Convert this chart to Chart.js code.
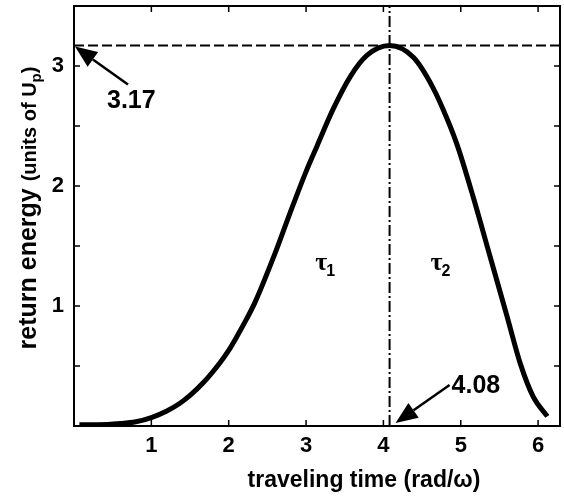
<!DOCTYPE html>
<html>
<head>
<meta charset="utf-8">
<script src="https://cdn.jsdelivr.net/npm/chart.js@4.4.0/dist/chart.umd.min.js"></script>
<style>
  html, body { margin: 0; padding: 0; background: #fff; }
  #plot { display: block; }
</style>
</head>
<body>
<canvas id="plot" width="564" height="497"></canvas>
<script>
// traveling time (rad/omega) and return energy (units of Up)
const travelTime   = [0.07, 0.3, 0.6, 0.8, 1.0, 1.2, 1.37, 1.5, 1.67, 1.89, 2.0, 2.11, 2.23, 2.34, 2.6, 2.79, 3.0, 3.14, 3.35, 3.57, 3.79, 4.08, 4.39, 4.64, 4.83, 4.96, 5.16, 5.38, 5.6, 5.77, 5.94, 6.12];
const returnEnergy = [0.01, 0.01, 0.02, 0.035, 0.07, 0.125, 0.19, 0.255, 0.36, 0.53, 0.63, 0.75, 0.89, 1.03, 1.44, 1.77, 2.12, 2.33, 2.64, 2.91, 3.09, 3.17, 3.07, 2.82, 2.55, 2.33, 1.91, 1.41, 0.91, 0.52, 0.24, 0.08];

const peakTime = 4.08;
const peakEnergy = 3.17;

const xMin = 0, xMax = 6.2832;
const yMin = 0, yMax = 3.5;
const xTicks = [1, 2, 3, 4, 5, 6];
const yTicks = [1, 2, 3];
const yMinorTicks = [0.5, 1.5, 2.5, 3.5];

const tauLabels = [
  { sub: '1', x: 3.26, y: 1.3 },
  { sub: '2', x: 4.75, y: 1.3 }
];

const SANS = '"Liberation Sans", Arial, Helvetica, sans-serif';

function drawArrow(ctx, tipX, tipY, tailX, tailY) {
  const ang = Math.atan2(tipY - tailY, tipX - tailX);
  const headLen = 22, headHalf = 9;
  const bx = tipX - headLen * Math.cos(ang), by = tipY - headLen * Math.sin(ang);
  ctx.lineWidth = 2.5;
  ctx.beginPath();
  ctx.moveTo(tailX, tailY);
  ctx.lineTo(bx, by);
  ctx.stroke();
  ctx.beginPath();
  ctx.moveTo(tipX, tipY);
  ctx.lineTo(bx + headHalf * Math.sin(ang), by - headHalf * Math.cos(ang));
  ctx.lineTo(bx - headHalf * Math.sin(ang), by + headHalf * Math.cos(ang));
  ctx.closePath();
  ctx.fill();
}

const overlay = {
  id: 'overlay',
  afterDatasetsDraw(chart) {
    const { ctx, chartArea: a, scales: { x, y } } = chart;
    ctx.save();
    ctx.strokeStyle = '#000';
    ctx.fillStyle = '#000';

    // frame
    ctx.lineWidth = 2;
    ctx.strokeRect(a.left, a.top, a.right - a.left, a.bottom - a.top);

    // inward ticks on all four sides
    ctx.lineWidth = 1.5;
    ctx.beginPath();
    xTicks.forEach(v => {
      const px = x.getPixelForValue(v);
      ctx.moveTo(px, a.bottom); ctx.lineTo(px, a.bottom - 6);
      ctx.moveTo(px, a.top); ctx.lineTo(px, a.top + 6);
    });
    yTicks.concat(yMinorTicks).forEach(v => {
      const py = y.getPixelForValue(v);
      ctx.moveTo(a.left, py); ctx.lineTo(a.left + 6, py);
      ctx.moveTo(a.right, py); ctx.lineTo(a.right - 6, py);
    });
    ctx.stroke();

    // arrows + values
    const p317x = x.getPixelForValue(xMin), p317y = y.getPixelForValue(peakEnergy);
    drawArrow(ctx, p317x + 1, p317y + 1, p317x + 54, p317y + 39);
    const p408x = x.getPixelForValue(peakTime), p408y = y.getPixelForValue(yMin);
    drawArrow(ctx, p408x + 6, p408y - 3, p408x + 60, p408y - 41);

    ctx.font = 'bold 25px ' + SANS;
    ctx.textBaseline = 'alphabetic';
    ctx.textAlign = 'left';
    ctx.fillText('3.17', p317x + 33, p317y + 62);
    ctx.fillText('4.08', p408x + 62, p408y - 33);

    // tau labels
    tauLabels.forEach(t => {
      const px = x.getPixelForValue(t.x), py = y.getPixelForValue(t.y);
      ctx.font = 'bold 26px "Liberation Serif", "DejaVu Serif", serif';
      ctx.fillText('\u03C4', px - 11, py);
      const w = ctx.measureText('\u03C4').width;
      ctx.font = 'bold 16px ' + SANS;
      ctx.fillText(t.sub, px - 11 + w - 1, py + 6);
    });

    // x title
    ctx.font = 'bold 23px ' + SANS;
    ctx.textAlign = 'center';
    ctx.fillText('traveling time (rad/\u03C9)', 364, 487);

    // y title with smaller units and subscript
    const parts = [
      { t: 'return energy ', f: 'bold 25px ' + SANS, dy: 0 },
      { t: '(units of U', f: 'bold 20px ' + SANS, dy: 0 },
      { t: 'p', f: 'bold 15px ' + SANS, dy: 5 },
      { t: ')', f: 'bold 20px ' + SANS, dy: 0 }
    ];
    let total = 0;
    parts.forEach(p => { ctx.font = p.f; p.w = ctx.measureText(p.t).width; total += p.w; });
    ctx.translate(36, 208);
    ctx.rotate(-Math.PI / 2);
    ctx.textAlign = 'left';
    let cx = -total / 2;
    parts.forEach(p => { ctx.font = p.f; ctx.fillText(p.t, cx, p.dy); cx += p.w; });

    ctx.restore();
  }
};

new Chart(document.getElementById('plot'), {
  type: 'line',
  data: {
    datasets: [
      {
        data: travelTime.map((t, i) => ({ x: t, y: returnEnergy[i] })),
        borderColor: '#000',
        borderWidth: 5,
        pointRadius: 0,
        fill: false,
        cubicInterpolationMode: 'monotone'
      },
      {
        data: [{ x: xMin, y: peakEnergy }, { x: xMax, y: peakEnergy }],
        borderColor: '#000',
        borderWidth: 2,
        borderDash: [10, 4],
        pointRadius: 0,
        fill: false
      },
      {
        data: [{ x: peakTime, y: yMin }, { x: peakTime, y: yMax }],
        borderColor: '#000',
        borderWidth: 2,
        borderDash: [11, 3, 2, 3],
        pointRadius: 0,
        fill: false
      }
    ]
  },
  options: {
    responsive: false,
    animation: false,
    events: [],
    layout: { padding: { left: 4, right: 4, top: 6, bottom: 3 } },
    plugins: { legend: { display: false }, tooltip: { enabled: false } },
    scales: {
      x: {
        type: 'linear',
        min: xMin,
        max: xMax,
        grid: { display: false, drawTicks: false },
        border: { display: false },
        afterBuildTicks: s => { s.ticks = xTicks.map(v => ({ value: v })); },
        afterFit: s => { s.height = 68; s.paddingLeft = 0; s.paddingRight = 0; },
        ticks: { color: '#000', padding: 7, maxRotation: 0, font: { family: SANS, size: 22, weight: 'bold' } }
      },
      y: {
        type: 'linear',
        min: yMin,
        max: yMax,
        grid: { display: false, drawTicks: false },
        border: { display: false },
        afterBuildTicks: s => { s.ticks = yTicks.map(v => ({ value: v })); },
        afterFit: s => { s.width = 70; s.paddingTop = 0; s.paddingBottom = 0; },
        ticks: { color: '#000', padding: 10, font: { family: SANS, size: 22, weight: 'bold' } }
      }
    }
  },
  plugins: [overlay]
});
</script>
</body>
</html>
